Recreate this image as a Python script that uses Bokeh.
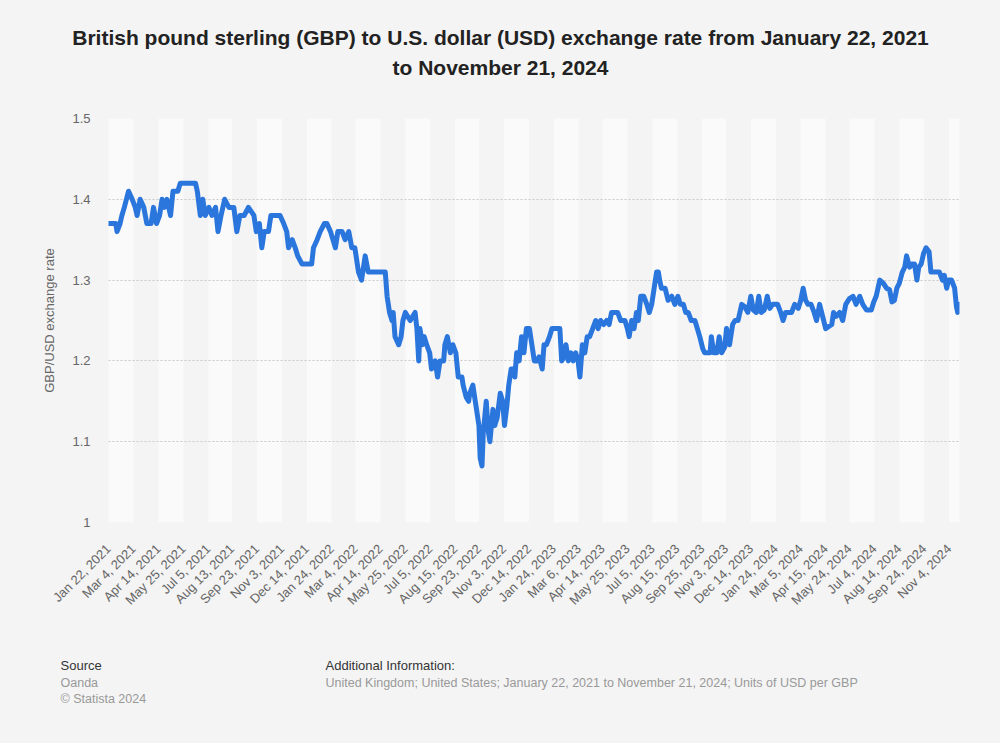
import pandas as pd
from math import pi
from bokeh.plotting import figure
from bokeh.layouts import column
from bokeh.models import ColumnDataSource, FixedTicker, Range1d
from bokeh.core.properties import value
from bokeh.embed import file_html
from bokeh.resources import INLINE

# ---------------- data ----------------
dates = [
    "2021-01-22", "2021-02-03", "2021-02-05", "2021-02-10", "2021-02-13", "2021-02-17", "2021-02-24",
    "2021-03-02", "2021-03-07", "2021-03-10", "2021-03-15", "2021-03-21", "2021-03-26",
    "2021-04-02", "2021-04-06", "2021-04-11", "2021-04-16", "2021-04-20", "2021-04-24", "2021-04-28",
    "2021-05-04", "2021-05-08", "2021-05-16", "2021-05-20",
    "2021-06-14", "2021-06-17", "2021-06-22", "2021-06-26", "2021-06-30",
    "2021-07-06", "2021-07-11", "2021-07-17", "2021-07-21", "2021-07-26",
    "2021-08-01", "2021-08-08", "2021-08-16", "2021-08-21", "2021-08-26",
    "2021-09-02", "2021-09-09", "2021-09-18", "2021-09-22", "2021-09-27",
    "2021-10-01", "2021-10-05", "2021-10-12", "2021-10-16", "2021-10-31",
    "2021-11-06", "2021-11-11", "2021-11-14", "2021-11-20", "2021-11-25", "2021-11-29",
    "2021-12-06", "2021-12-22", "2021-12-25", "2021-12-31",
    "2022-01-05", "2022-01-12", "2022-01-16", "2022-01-22", "2022-01-30",
    "2022-02-03", "2022-02-10", "2022-02-15", "2022-02-21", "2022-02-26",
    "2022-03-03", "2022-03-09", "2022-03-14", "2022-03-20", "2022-03-25", "2022-03-31",
    "2022-04-19", "2022-04-22", "2022-04-25", "2022-04-29",
    "2022-05-03", "2022-05-05", "2022-05-08", "2022-05-14", "2022-05-18", "2022-05-21", "2022-05-25",
    "2022-06-02", "2022-06-10", "2022-06-13", "2022-06-16", "2022-06-18", "2022-06-22", "2022-06-25", "2022-06-29",
    "2022-07-04", "2022-07-07", "2022-07-13", "2022-07-17", "2022-07-21", "2022-07-27", "2022-07-29",
    "2022-08-02", "2022-08-07", "2022-08-11", "2022-08-16", "2022-08-20", "2022-08-26", "2022-08-28",
    "2022-09-02", "2022-09-06", "2022-09-08", "2022-09-13", "2022-09-17", "2022-09-19", "2022-09-23",
    "2022-09-25", "2022-09-28", "2022-09-30",
    "2022-10-05", "2022-10-08", "2022-10-11", "2022-10-16", "2022-10-19", "2022-10-23", "2022-10-28",
    "2022-11-01", "2022-11-04", "2022-11-08", "2022-11-11", "2022-11-15", "2022-11-18", "2022-11-21",
    "2022-11-24", "2022-11-28",
    "2022-12-02", "2022-12-06", "2022-12-10", "2022-12-15", "2022-12-19", "2022-12-23", "2022-12-27", "2022-12-31",
    "2023-01-05", "2023-01-08", "2023-01-12", "2023-01-17", "2023-01-21", "2023-01-29",
    "2023-02-03", "2023-02-06", "2023-02-10", "2023-02-13", "2023-02-17", "2023-02-21", "2023-02-25",
    "2023-03-01", "2023-03-05", "2023-03-08", "2023-03-12", "2023-03-16", "2023-03-20", "2023-03-24", "2023-03-29",
    "2023-04-03", "2023-04-07", "2023-04-11", "2023-04-16", "2023-04-21", "2023-04-25", "2023-04-29",
    "2023-05-09", "2023-05-14", "2023-05-21", "2023-05-25", "2023-05-28",
    "2023-06-01", "2023-06-05", "2023-06-09", "2023-06-12", "2023-06-16", "2023-06-21", "2023-06-26", "2023-06-30",
    "2023-07-04", "2023-07-08", "2023-07-12", "2023-07-15", "2023-07-17", "2023-07-20", "2023-07-26", "2023-07-31",
    "2023-08-06", "2023-08-11", "2023-08-16", "2023-08-20", "2023-08-25", "2023-08-29",
    "2023-09-02", "2023-09-07", "2023-09-13", "2023-09-17", "2023-09-21", "2023-09-26", "2023-09-29",
    "2023-10-08", "2023-10-10", "2023-10-14", "2023-10-19", "2023-10-23", "2023-10-27",
    "2023-11-01", "2023-11-04", "2023-11-09", "2023-11-14", "2023-11-18", "2023-11-23", "2023-11-29",
    "2023-12-04", "2023-12-09", "2023-12-14", "2023-12-18", "2023-12-23", "2023-12-27", "2023-12-31",
    "2024-01-05", "2024-01-10", "2024-01-14", "2024-01-19", "2024-01-27",
    "2024-02-01", "2024-02-05", "2024-02-09", "2024-02-19", "2024-02-24",
    "2024-03-01", "2024-03-05", "2024-03-09", "2024-03-13", "2024-03-17", "2024-03-22", "2024-03-27", "2024-03-31",
    "2024-04-05", "2024-04-10", "2024-04-15", "2024-04-25", "2024-04-28",
    "2024-05-02", "2024-05-08", "2024-05-13", "2024-05-18", "2024-05-24", "2024-05-30",
    "2024-06-04", "2024-06-10", "2024-06-15", "2024-06-21", "2024-06-29",
    "2024-07-03", "2024-07-07", "2024-07-13", "2024-07-19", "2024-07-24", "2024-07-29",
    "2024-08-02", "2024-08-06", "2024-08-10", "2024-08-14", "2024-08-19", "2024-08-23", "2024-08-26", "2024-08-31",
    "2024-09-04", "2024-09-08", "2024-09-12", "2024-09-15", "2024-09-19", "2024-09-23", "2024-09-27",
    "2024-10-02", "2024-10-05", "2024-10-19", "2024-10-24", "2024-10-27", "2024-10-31",
    "2024-11-03", "2024-11-08", "2024-11-13", "2024-11-16", "2024-11-18", "2024-11-21",
]

rates = [
    1.37, 1.37, 1.36, 1.37, 1.38, 1.39, 1.41,
    1.40, 1.39, 1.38, 1.40, 1.39, 1.37,
    1.37, 1.39, 1.37, 1.38, 1.40, 1.39, 1.40,
    1.38, 1.41, 1.41, 1.42,
    1.42, 1.41, 1.38, 1.40, 1.38,
    1.39, 1.38, 1.39, 1.36, 1.38,
    1.40, 1.39, 1.39, 1.36, 1.38,
    1.38, 1.39, 1.38, 1.36, 1.37,
    1.34, 1.36, 1.36, 1.38, 1.38,
    1.37, 1.36, 1.34, 1.35, 1.34, 1.33,
    1.32, 1.32, 1.34, 1.35,
    1.36, 1.37, 1.37, 1.36, 1.34,
    1.36, 1.36, 1.35, 1.36, 1.34,
    1.34, 1.31, 1.30, 1.33, 1.31, 1.31,
    1.31, 1.31, 1.28, 1.26,
    1.25, 1.26, 1.23, 1.22, 1.23, 1.25, 1.26,
    1.25, 1.26, 1.24, 1.20, 1.24, 1.22, 1.23, 1.22,
    1.21, 1.19, 1.20, 1.18, 1.20, 1.20, 1.22,
    1.23, 1.21, 1.22, 1.21, 1.18, 1.18, 1.17,
    1.155, 1.15, 1.16, 1.17, 1.15, 1.14, 1.12,
    1.08, 1.07, 1.11,
    1.15, 1.115, 1.10, 1.14, 1.12, 1.13, 1.16,
    1.15, 1.12, 1.145, 1.17, 1.19, 1.19, 1.18,
    1.21, 1.20,
    1.23, 1.21, 1.24, 1.24, 1.22, 1.20, 1.20, 1.205,
    1.19, 1.22, 1.22, 1.23, 1.24, 1.24,
    1.24, 1.20, 1.205, 1.22, 1.20, 1.21, 1.20,
    1.21, 1.20, 1.18, 1.22, 1.21, 1.23, 1.23, 1.24,
    1.25, 1.24, 1.25, 1.245, 1.25, 1.245, 1.26,
    1.26, 1.25, 1.25, 1.24, 1.23,
    1.25, 1.24, 1.26, 1.25, 1.28, 1.28, 1.27, 1.26,
    1.27, 1.29, 1.31, 1.31, 1.30, 1.29, 1.29, 1.275,
    1.28, 1.27, 1.28, 1.27, 1.27, 1.26,
    1.26, 1.25, 1.25, 1.24, 1.23, 1.215, 1.21,
    1.21, 1.23, 1.21, 1.21, 1.23, 1.21,
    1.217, 1.24, 1.22, 1.245, 1.25, 1.25, 1.27,
    1.267, 1.26, 1.28, 1.263, 1.26, 1.28, 1.26,
    1.263, 1.28, 1.265, 1.27, 1.27,
    1.26, 1.25, 1.26, 1.26, 1.27,
    1.265, 1.275, 1.29, 1.275, 1.27, 1.27, 1.26, 1.25,
    1.27, 1.255, 1.24, 1.245, 1.26,
    1.255, 1.26, 1.25, 1.27, 1.277, 1.28,
    1.27, 1.28, 1.27, 1.263, 1.263,
    1.273, 1.28, 1.30, 1.296, 1.29, 1.288,
    1.273, 1.275, 1.29, 1.296, 1.31, 1.316, 1.33, 1.316,
    1.32, 1.32, 1.30, 1.316, 1.32, 1.333, 1.34,
    1.335, 1.31, 1.31, 1.30, 1.306, 1.29,
    1.30, 1.30, 1.29, 1.267, 1.26, 1.27,
]

tick_labels = [
    "Jan 22, 2021", "Mar 4, 2021", "Apr 14, 2021", "May 25, 2021", "Jul 5, 2021", "Aug 13, 2021",
    "Sep 23, 2021", "Nov 3, 2021", "Dec 14, 2021", "Jan 24, 2022", "Mar 4, 2022", "Apr 14, 2022",
    "May 25, 2022", "Jul 5, 2022", "Aug 15, 2022", "Sep 23, 2022", "Nov 3, 2022", "Dec 14, 2022",
    "Jan 24, 2023", "Mar 6, 2023", "Apr 14, 2023", "May 25, 2023", "Jul 5, 2023", "Aug 15, 2023",
    "Sep 25, 2023", "Nov 3, 2023", "Dec 14, 2023", "Jan 24, 2024", "Mar 5, 2024", "Apr 15, 2024",
    "May 24, 2024", "Jul 4, 2024", "Aug 14, 2024", "Sep 24, 2024", "Nov 4, 2024",
]

y_ticks = [1.0, 1.1, 1.2, 1.3, 1.4, 1.5]
y_tick_labels = ["1", "1.1", "1.2", "1.3", "1.4", "1.5"]

title_lines = [
    "British pound sterling (GBP) to U.S. dollar (USD) exchange rate from January 22, 2021",
    "to November 21, 2024",
]
y_label = "GBP/USD exchange rate"
source_lines = ["Source", "Oanda", "\u00a9 Statista 2024"]
info_lines = ["Additional Information:",
              "United Kingdom; United States; January 22, 2021 to November 21, 2024; Units of USD per GBP"]

# ---------------- styling ----------------
FONT = "Liberation Sans"
LINE_BLUE = "#2a76dd"
BG = "#f4f4f4"
BAND_LIGHT = "#fafafa"
W = 1000


def to_ms(values, fmt=None):
    idx = pd.to_datetime(values, format=fmt)
    return [int(v) for v in (idx.asi8 // 10**6)]


def no_align(fig):
    try:
        fig.frame_align = False
    except Exception:
        pass


def text_panel(height):
    # frame covers the whole canvas: x maps 1:1 onto page pixels, y runs downward
    f = figure(width=W, height=height, x_range=Range1d(0, W), y_range=Range1d(height, 0),
               output_backend="svg", toolbar_location=None, min_border=0,
               x_axis_location=None, y_axis_location=None,
               background_fill_color=BG, border_fill_color=BG, outline_line_color=None)
    f.grid.visible = False
    no_align(f)
    return f


x_ms = to_ms(dates)
tick_ms = to_ms(tick_labels, fmt="%b %d, %Y")
x_start, x_end = x_ms[0], x_ms[-1]

# alternating background bands between tick positions
band_edges = tick_ms + [x_end]
band_left = [band_edges[i] for i in range(0, len(tick_ms), 2)]
band_right = [band_edges[i + 1] for i in range(0, len(tick_ms), 2)]

# ---------------- header (title) ----------------
header = text_panel(108)
header.text(x=[W / 2, W / 2], y=[37, 67], text=title_lines,
            text_font=value(FONT), text_font_size="21px", text_font_style="bold",
            text_color="#222222", text_align="center", text_baseline="middle")

# ---------------- main chart ----------------
p = figure(
    width=W, height=540,
    x_range=Range1d(x_start, x_end), y_range=Range1d(y_ticks[0], y_ticks[-1]),
    output_backend="svg", toolbar_location=None,
    min_border_left=108, min_border_right=41, min_border_top=10, min_border_bottom=126,
    background_fill_color=BG, border_fill_color=BG, outline_line_color=None,
)
no_align(p)

bands = p.quad(left=band_left, right=band_right, bottom=y_ticks[0], top=y_ticks[-1],
               fill_color=BAND_LIGHT, line_color=None)
bands.level = "image"

src = ColumnDataSource(dict(x=x_ms, y=rates))
p.line("x", "y", source=src, line_color=LINE_BLUE, line_width=5,
       line_join="round", line_cap="round")

p.xgrid.visible = False
p.ygrid.ticker = FixedTicker(ticks=y_ticks)
p.ygrid.grid_line_color = "#c9c9c9"
p.ygrid.grid_line_dash = "2 2"
p.ygrid.grid_line_width = 1

xa = p.xaxis[0]
xa.ticker = FixedTicker(ticks=tick_ms)
xa.major_label_overrides = {t: lab for t, lab in zip(tick_ms, tick_labels)}
xa.major_label_orientation = pi / 4
xa.axis_line_color = None
xa.major_tick_line_color = None
xa.minor_tick_line_color = None
xa.major_tick_out = 0
xa.major_label_standoff = 24
xa.major_label_text_font = FONT
xa.major_label_text_font_size = "13px"
xa.major_label_text_color = "#666666"

ya = p.yaxis[0]
ya.ticker = FixedTicker(ticks=y_ticks)
ya.major_label_overrides = {t: lab for t, lab in zip(y_ticks, y_tick_labels)}
ya.axis_line_color = None
ya.major_tick_line_color = None
ya.minor_tick_line_color = None
ya.major_tick_out = 0
ya.major_label_standoff = 18
ya.major_label_text_font = FONT
ya.major_label_text_font_size = "13px"
ya.major_label_text_color = "#666666"
ya.axis_label = y_label
ya.axis_label_text_font = FONT
ya.axis_label_text_font_size = "13px"
ya.axis_label_text_font_style = "normal"
ya.axis_label_text_color = "#666666"
ya.axis_label_standoff = 12

# ---------------- footer ----------------
footer = text_panel(95)
foot_src = ColumnDataSource(dict(
    x=[60, 60, 60, 325, 325],
    y=[17, 34, 50, 17, 34],
    text=source_lines + info_lines,
    color=["#333333", "#999999", "#999999", "#333333", "#999999"],
    size=["13px", "12.5px", "12.5px", "13px", "12.5px"],
))
footer.text(x="x", y="y", text="text", source=foot_src, text_color="color",
            text_font_size="size", text_font=value(FONT),
            text_align="left", text_baseline="middle")

layout = column(header, p, footer, spacing=0, styles={"background-color": BG})
open("out.html", "w").write(file_html(layout, INLINE))
